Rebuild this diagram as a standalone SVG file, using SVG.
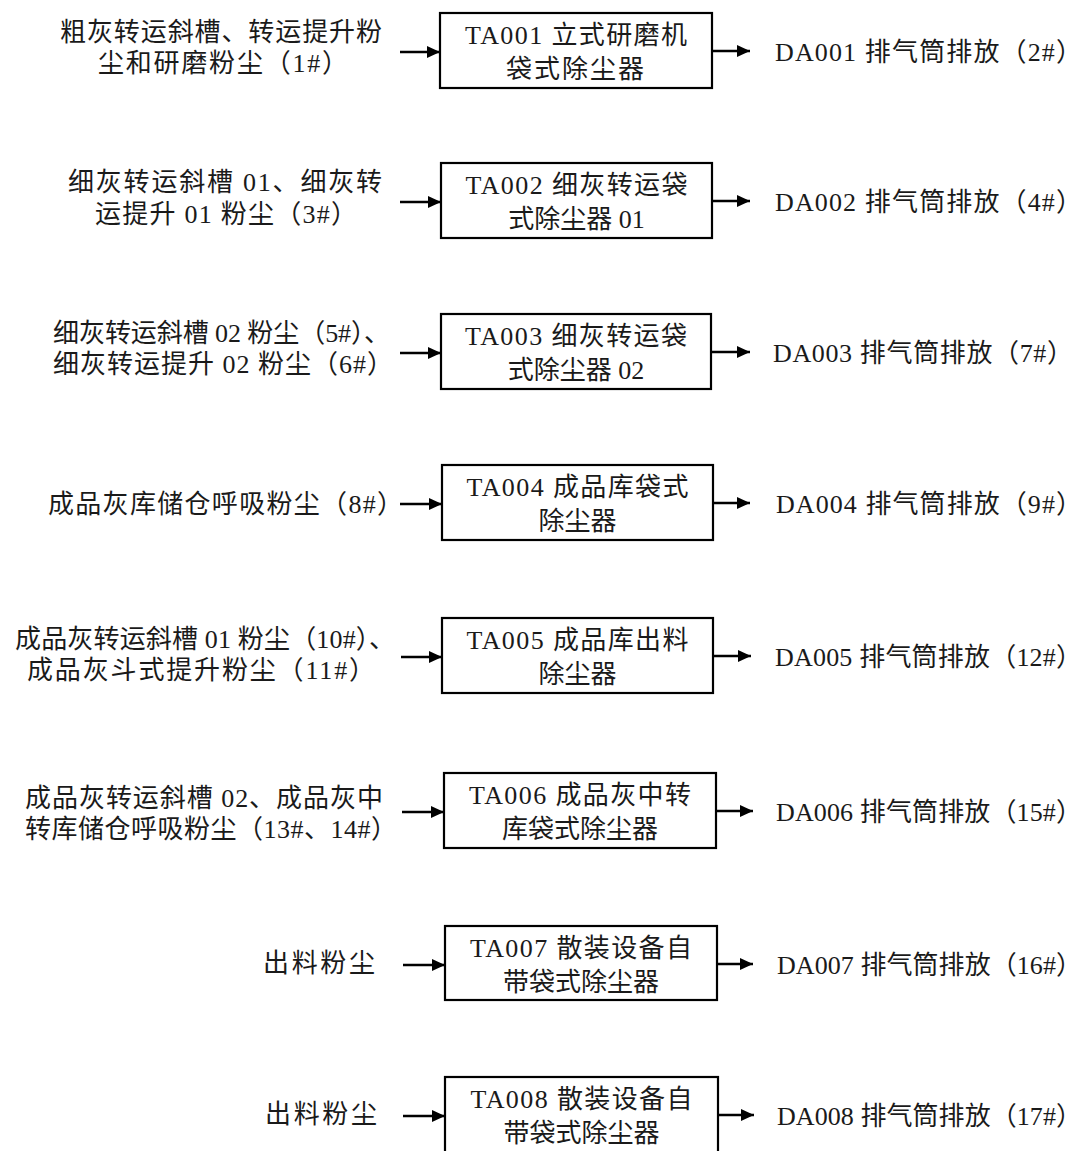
<svg xmlns="http://www.w3.org/2000/svg" width="1086" height="1151" viewBox="0 0 1086 1151">
<style>
text{font-family:"Liberation Serif","Noto Sans CJK SC",serif;font-size:26px;fill:#1a1a1a}
.c{text-anchor:middle}
.box{fill:#fff;stroke:#000;stroke-width:2.2}
.ar{stroke:#000;stroke-width:2.6;fill:none;marker-end:url(#ah)}
</style>
<defs>
<marker id="ah" markerUnits="userSpaceOnUse" markerWidth="14" markerHeight="12" refX="13" refY="6" orient="auto">
<path d="M0,0 L13,6 L0,12 z" fill="#000"/>
</marker>
</defs>
<rect width="1086" height="1151" fill="#fff"/>
<g id="connectors">
<line class="ar" x1="400" y1="52" x2="440" y2="52"/><line class="ar" x1="712" y1="51" x2="750" y2="51"/>
<line class="ar" x1="400" y1="202" x2="441" y2="202"/><line class="ar" x1="712" y1="201" x2="750" y2="201"/>
<line class="ar" x1="400" y1="353" x2="441" y2="353"/><line class="ar" x1="711" y1="352" x2="750" y2="352"/>
<line class="ar" x1="400" y1="504" x2="442" y2="504"/><line class="ar" x1="713" y1="503" x2="750" y2="503"/>
<line class="ar" x1="401" y1="657" x2="442" y2="657"/><line class="ar" x1="713" y1="656" x2="751" y2="656"/>
<line class="ar" x1="402" y1="812" x2="444" y2="812"/><line class="ar" x1="716" y1="811" x2="753" y2="811"/>
<line class="ar" x1="403" y1="965" x2="445" y2="965"/><line class="ar" x1="717" y1="964" x2="753" y2="964"/>
<line class="ar" x1="403" y1="1116" x2="445" y2="1116"/><line class="ar" x1="718" y1="1115" x2="754" y2="1115"/>
</g>
<g id="src1"><text x="60" y="41" textLength="322" lengthAdjust="spacing">粗灰转运斜槽、转运提升粉</text><text x="98" y="72" textLength="250" lengthAdjust="spacing">尘和研磨粉尘（1#）</text></g>
<g id="ta001"><rect class="box" x="440" y="13" width="272" height="75"/><text class="c" x="576" y="44" textLength="222" lengthAdjust="spacing">TA001 立式研磨机</text><text class="c" x="575" y="78" textLength="138" lengthAdjust="spacing">袋式除尘器</text></g>
<g id="da001"><text x="775" y="61" textLength="307" lengthAdjust="spacing">DA001 排气筒排放（2#）</text></g>

<g id="src2"><text x="68" y="191" textLength="314" lengthAdjust="spacing">细灰转运斜槽 01、细灰转</text><text x="95" y="223" textLength="262" lengthAdjust="spacing">运提升 01 粉尘（3#）</text></g>
<g id="ta002"><rect class="box" x="441" y="163" width="271" height="75"/><text class="c" x="576.5" y="194" textLength="222" lengthAdjust="spacing">TA002 细灰转运袋</text><text class="c" x="576.5" y="228">式除尘器 01</text></g>
<g id="da002"><text x="775" y="211" textLength="307" lengthAdjust="spacing">DA002 排气筒排放（4#）</text></g>

<g id="src3"><text x="53" y="342" textLength="337" lengthAdjust="spacing">细灰转运斜槽 02 粉尘（5#）、</text><text x="53" y="373" textLength="340" lengthAdjust="spacing">细灰转运提升 02 粉尘（6#）</text></g>
<g id="ta003"><rect class="box" x="441" y="314" width="270" height="75"/><text class="c" x="576" y="345" textLength="222" lengthAdjust="spacing">TA003 细灰转运袋</text><text class="c" x="576" y="379">式除尘器 02</text></g>
<g id="da003"><text x="773" y="362" textLength="300" lengthAdjust="spacing">DA003 排气筒排放（7#）</text></g>

<g id="src4"><text x="48" y="513" textLength="355" lengthAdjust="spacing">成品灰库储仓呼吸粉尘（8#）</text></g>
<g id="ta004"><rect class="box" x="442" y="465" width="271" height="75"/><text class="c" x="577.5" y="496" textLength="222" lengthAdjust="spacing">TA004 成品库袋式</text><text class="c" x="577.5" y="530">除尘器</text></g>
<g id="da004"><text x="776" y="513" textLength="306" lengthAdjust="spacing">DA004 排气筒排放（9#）</text></g>

<g id="src5"><text x="15" y="648" textLength="380" lengthAdjust="spacing">成品灰转运斜槽 01 粉尘（10#）、</text><text x="27" y="679" textLength="348" lengthAdjust="spacing">成品灰斗式提升粉尘（11#）</text></g>
<g id="ta005"><rect class="box" x="442" y="618" width="271" height="75"/><text class="c" x="577.5" y="649" textLength="222" lengthAdjust="spacing">TA005 成品库出料</text><text class="c" x="577.5" y="683">除尘器</text></g>
<g id="da005"><text x="775" y="666" textLength="307" lengthAdjust="spacing">DA005 排气筒排放（12#）</text></g>

<g id="src6"><text x="25" y="807" textLength="358" lengthAdjust="spacing">成品灰转运斜槽 02、成品灰中</text><text x="25" y="838" textLength="372" lengthAdjust="spacing">转库储仓呼吸粉尘（13#、14#）</text></g>
<g id="ta006"><rect class="box" x="444" y="773" width="272" height="75"/><text class="c" x="580" y="804" textLength="222" lengthAdjust="spacing">TA006 成品灰中转</text><text class="c" x="580" y="838">库袋式除尘器</text></g>
<g id="da006"><text x="776" y="821" textLength="306" lengthAdjust="spacing">DA006 排气筒排放（15#）</text></g>

<g id="src7"><text x="263" y="972" textLength="112" lengthAdjust="spacing">出料粉尘</text></g>
<g id="ta007"><rect class="box" x="445" y="926" width="272" height="74"/><text class="c" x="581" y="957" textLength="222" lengthAdjust="spacing">TA007 散装设备自</text><text class="c" x="581" y="991">带袋式除尘器</text></g>
<g id="da007"><text x="777" y="974" textLength="305" lengthAdjust="spacing">DA007 排气筒排放（16#）</text></g>

<g id="src8"><text x="265" y="1123" textLength="112" lengthAdjust="spacing">出料粉尘</text></g>
<g id="ta008"><rect class="box" x="445" y="1077" width="273" height="76"/><text class="c" x="581.5" y="1108" textLength="222" lengthAdjust="spacing">TA008 散装设备自</text><text class="c" x="581.5" y="1142">带袋式除尘器</text></g>
<g id="da008"><text x="777" y="1125" textLength="305" lengthAdjust="spacing">DA008 排气筒排放（17#）</text></g>
</svg>
